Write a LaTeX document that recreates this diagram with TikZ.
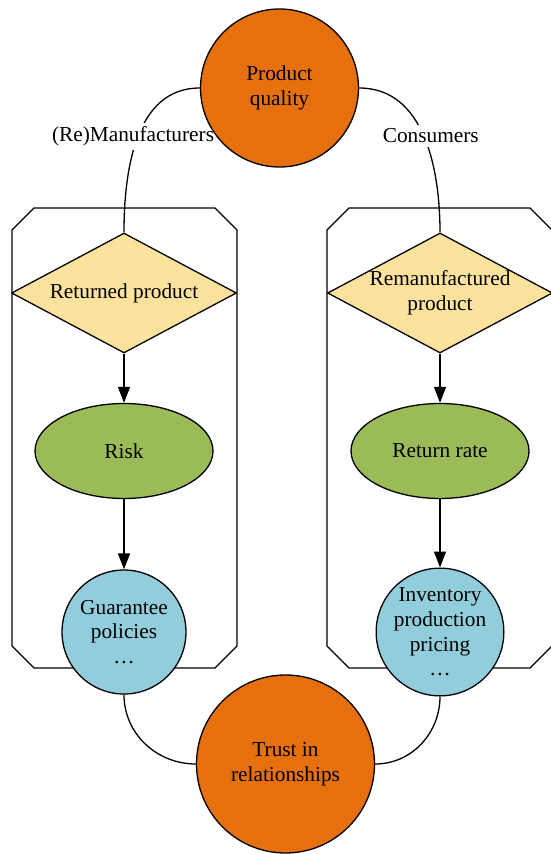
\documentclass[tikz,border=0pt]{standalone}
\usepackage{fontspec}
\setmainfont{Liberation Serif}
\usetikzlibrary{shapes.geometric,arrows.meta,backgrounds}
\definecolor{pqorange}{RGB}{230,112,14}
\definecolor{rpyellow}{RGB}{252,226,156}
\definecolor{rkgreen}{RGB}{155,187,89}
\definecolor{gpblue}{RGB}{146,205,220}
\begin{document}
\begin{tikzpicture}[x=0.5pt, y=-0.5pt, line width=0.65pt,
    every node/.style={font=\fontsize{10.65}{12.3}\selectfont, align=center},
    bigcirc/.style={circle, draw, fill=pqorange, inner sep=0pt},
    choice/.style={diamond, draw, fill=rpyellow, aspect=1.875, inner sep=0pt,
        minimum width=112.5pt, minimum height=60pt},
    factor/.style={ellipse, draw, fill=rkgreen, minimum width=89pt, minimum height=47.5pt},
    action/.style={circle, draw, fill=gpblue, inner sep=0pt, minimum size=62pt},
    link/.style={-{Triangle[length=8pt, width=6pt]}},
    side/.style={fill=white, inner xsep=0.5pt, inner ysep=2pt}]
            \useasboundingbox (+0, +0) rectangle (+550, +854) ;
            % top
            \draw (+279.5, +88) node[bigcirc, minimum size=79pt](pq){Product\\quality} ;
            % left column
            \draw (+124, +293) node[choice](rp){Returned product} ;
            \draw (+124, +451) node[factor](risk){Risk} ;
            \draw (+124, +632) node[action](gp){Guarantee\\policies\\\dots} ;
            % right column
            \draw (+440, +293) node[choice](remp){Remanufactured\\product} ;
            \draw (+440, +451) node[factor](rate){Return rate} ;
            \draw (+440, +632) node[action](ipp){Inventory\\production\\pricing\\\dots} ;
            % bottom
            \draw (+285.5, +764) node[bigcirc, minimum size=89pt](trust){Trust in\\relationships} ;
            % Arrows
            \draw[link] (rp) -- (risk) ;
            \draw[link] (risk) -- (gp) ;
            \draw[link] (remp) -- (rate) ;
            \draw[link] (rate) -- (ipp) ;
            \begin{pgfonlayer}{background}
            \begin{scope}[line width=0.65pt]
                % boxes
                \draw (+12, +230) -- (+34, +208) -- (+215, +208) -- (+237, +230) -- (+237, +646)
                    -- (+215, +668) -- (+34, +668) -- (+12, +646) -- cycle ;
                \draw (+327, +230) -- (+349, +208) -- (+530, +208) -- (+552, +230) -- (+552, +646)
                    -- (+530, +668) -- (+349, +668) -- (+327, +646) -- cycle ;
                % links
                \draw (pq.west) to[out=180, in=90] node[side, xshift=-2.5pt]{(Re)Manufacturers} (rp.north) ;
                \draw (pq.east) to[out=0, in=90] node[side, xshift=3.5pt]{Consumers} (remp.north) ;
                \draw (gp.south) to[out=-90, in=180] (trust.west) ;
                \draw (ipp.south) to[out=-90, in=0] (trust.east) ;
            \end{scope}
            \end{pgfonlayer}
\end{tikzpicture}
\end{document}
